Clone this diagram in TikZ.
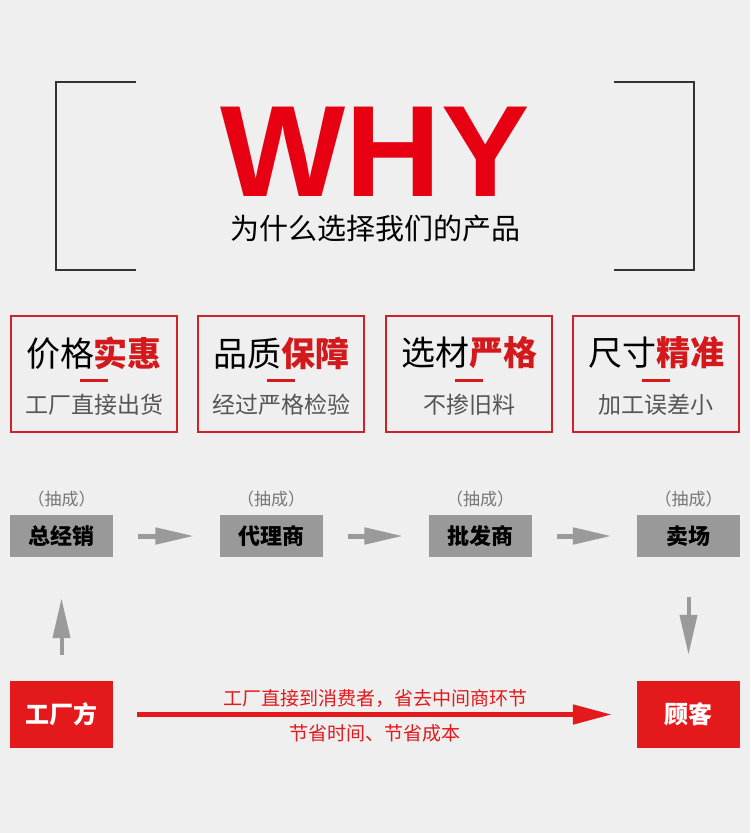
\documentclass[tikz,border=0pt]{standalone}
\usepackage{fontspec}
\setmainfont{Noto Sans CJK SC}
\newfontfamily\whyfont{Liberation Sans}
\usetikzlibrary{arrows.meta}
\definecolor{bg}{HTML}{EFEFEF}
\definecolor{whyred}{HTML}{E60012}
\definecolor{boxred}{HTML}{CC2229}
\definecolor{titlered}{HTML}{D4191C}
\definecolor{fillred}{HTML}{E3191B}
\definecolor{graybox}{HTML}{999999}
\definecolor{grayarr}{HTML}{9A9A9A}
\definecolor{subgray}{HTML}{555555}
\definecolor{bracket}{HTML}{333333}
\tikzset{
  featbox/.style={draw=boxred, line width=2pt, minimum width=166pt, minimum height=116pt, inner sep=0pt},
  feattitle/.style={inner sep=0pt, font=\fontsize{34}{34}\selectfont},
  featsub/.style={inner sep=0pt, text=subgray, font=\fontsize{23}{23}\selectfont},
  redbar/.style={titlered, line width=3pt},
  chain/.style={fill=graybox, minimum width=103pt, minimum height=42pt, inner sep=0pt, font=\fontsize{22}{22}\selectfont\bfseries},
  cut/.style={inner sep=0pt, text=subgray!80, font=\fontsize{17}{17}\selectfont},
  endbox/.style={fill=fillred, minimum width=103pt, minimum height=67pt, inner sep=0pt, text=white, font=\fontsize{24}{24}\selectfont\bfseries},
  grayarrow/.style={grayarr, line width=5pt, -{Triangle[length=39pt,width=16pt]}},
  redarrow/.style={fillred, line width=5pt, -{Triangle[length=39pt,width=19pt]}},
  redlabel/.style={inner sep=0pt, text=fillred, font=\fontsize{19}{19}\selectfont},
  brk/.style={bracket, line width=2.5pt},
}
\begin{document}
\begin{tikzpicture}[x=1pt, y=-1pt]
\useasboundingbox (0,0) rectangle (750,833);
\fill[bg] (0,0) rectangle (750,833);
% brackets
\draw[brk] (136,82) -- (56,82) -- (56,270) -- (136,270);
\draw[brk] (614,82) -- (694,82) -- (694,270) -- (614,270);
% WHY
\node[inner sep=0pt, text depth=0pt, text=whyred, font=\fontsize{130}{130}\selectfont\whyfont\bfseries, xscale=1.02, anchor=base] (why) at (375,196) {WHY};
\node[inner sep=0pt, font=\fontsize{29}{29}\selectfont] (sub) at (375,229) {为什么选择我们的产品};
% feature boxes
\foreach \cx/\blk/\red/\sub/\nm in {94/价格/实惠/工厂直接出货/a, 281/品质/保障/经过严格检验/b, 469/选材/严格/不掺旧料/c, 656/尺寸/精准/加工误差小/d}{
  \node[featbox] (box\nm) at (\cx,374) {};
  \node[feattitle] (t\nm) at (\cx,353) {\blk\textcolor{titlered}{\bfseries\red}};
  \draw[redbar] (\cx-14,380) -- (\cx+14,380);
  \node[featsub] (s\nm) at (\cx,405) {\sub};
}
% chain
\node[chain] (zjx) at (61.5,536) {总经销};
\node[chain] (dls) at (271,536) {代理商};
\node[chain] (pfs) at (480,536) {批发商};
\node[chain] (mc) at (688.5,536) {卖场};
\foreach \n in {zjx,dls,pfs,mc}{
  \node[cut] at ([yshift=37pt]\n.center) {（抽成）};
}
\draw[grayarrow, shorten <=25pt, shorten >=25pt] (zjx.east) -- (dls.west);
\draw[grayarrow, shorten <=25pt, shorten >=25pt] (dls.east) -- (pfs.west);
\draw[grayarrow, shorten <=25pt, shorten >=25pt] (pfs.east) -- (mc.west);
% bottom
\node[endbox] (gcf) at (61.5,714.5) {工厂方};
\node[endbox] (gk) at (688.5,714.5) {顾客};
\draw[grayarrow, line width=4pt, -{Triangle[length=40pt,width=17pt]}, shorten <=26pt, shorten >=41pt] (gcf.north) -- (zjx.south);
\draw[grayarrow, line width=4pt, -{Triangle[length=40pt,width=17pt]}, shorten <=40pt, shorten >=26pt] (mc.south) -- (gk.north);
\draw[redarrow, shorten <=24pt, shorten >=25pt] (gcf.east) -- (gk.west);
\node[redlabel] (l1) at (375,698) {工厂直接到消费者，省去中间商环节};
\node[redlabel] (l2) at (375,733) {节省时间、节省成本};
\end{tikzpicture}
\end{document}
